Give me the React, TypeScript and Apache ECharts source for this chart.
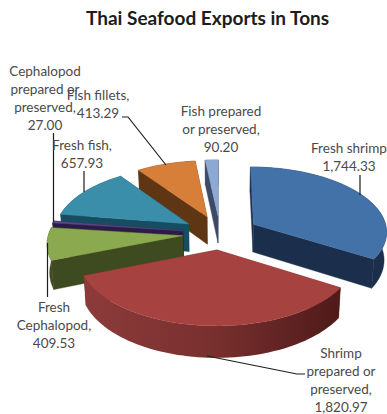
import React, { useEffect, useRef } from "react";
import * as echarts from "echarts";

const titleText = "Thai Seafood Exports in Tons";

// Slices in pie order, clockwise from twelve o'clock.
const sliceNames = [
  ["Fresh shrimp"],
  ["Shrimp", "prepared or", "preserved,"],
  ["Fresh", "Cephalopod,"],
  ["Cephalopod", "prepared or", "preserved,"],
  ["Fresh fish,"],
  ["Fish fillets,"],
  ["Fish prepared", "or preserved,"],
];
const sliceValues = [1744.33, 1820.97, 409.53, 27.0, 657.93, 413.29, 90.2];
const sliceExplosion = [0.29, 0.25, 0.28, 0.28, 0.28, 0.28, 0.28];

const topColors = ["#4372a9", "#a64240", "#8ba94e", "#5a4585", "#3b8ea9", "#d77f38", "#8da9d2"];
const wallColors = ["#1b2f4c", "#7a2d2c", "#3e4a1f", "#2c1b47", "#174d60", "#5f3614", "#3c4a68"];

// Back-to-front stacking rank of each slice.
const paintRank = [4, 6, 5, 3, 2, 1, 0];

// Label anchor (centre of the text block) for each slice.
const labelAnchors = [
  [349, 157],
  [341, 380],
  [54, 325],
  [45, 98],
  [82, 154],
  [98, 104],
  [221, 129],
];

// Leader lines from labels to slices.
const leaderLines = [
  [[360, 175], [360, 195]],
  [[207, 356], [297, 374], [305, 374]],
  [[47.5, 243], [47.5, 297]],
  [[53.5, 133], [53.5, 222]],
  [[84, 171], [84, 192]],
  [[122, 117], [128, 117], [166, 165]],
  [],
];

// Projection of the tilted pie: unit-disc coordinates to pixels.
const CX = 220;
const CY = 233.4;
const RX = 134;
const RY = 64.8;
const PERSPECTIVE = 0.1;
const DEPTH = 28;
const BASE_SHRINK = 0.985;

const project = (x: number, y: number, lowered = false) => {
  const w = 1 + PERSPECTIVE * y;
  let sx = (RX * x) / w;
  let sy = CY - (RY * y) / w;
  if (lowered) {
    sx *= BASE_SHRINK;
    sy += DEPTH / w;
  }
  return [CX + sx, sy];
};

const total = sliceValues.reduce((a, b) => a + b, 0);
const startAngles = sliceValues.map((_, i) =>
  (sliceValues.slice(0, i).reduce((a, b) => a + b, 0) / total) * Math.PI * 2
);

const formatValue = (v: number) =>
  v.toLocaleString("en-US", { minimumFractionDigits: 2, maximumFractionDigits: 2 });

const renderSlice = (params: any, api: any) => {
  const i = params.dataIndex;
  const value = api.value(0);
  const a0 = startAngles[i];
  const a1 = a0 + (value / total) * Math.PI * 2;
  const mid = (a0 + a1) / 2;
  const e = sliceExplosion[i];
  const ox = e * Math.sin(mid);
  const oy = e * Math.cos(mid);

  const steps = Math.max(2, Math.ceil((a1 - a0) / (Math.PI / 90)));
  const arcAngles = Array.from({ length: steps + 1 }, (_, k) => a0 + ((a1 - a0) * k) / steps);
  const arcTop = arcAngles.map((a) => project(ox + Math.sin(a), oy + Math.cos(a)));
  const arcBase = arcAngles.map((a) => project(ox + Math.sin(a), oy + Math.cos(a), true));
  const apexTop = project(ox, oy);
  const apexBase = project(ox, oy, true);

  const z = paintRank[i] * 10;
  const wallFill = wallColors[i];
  const rimFill =
    i === 1
      ? {
          type: "linear",
          x: 0,
          y: 0,
          x2: 1,
          y2: 0,
          colorStops: [
            { offset: 0, color: "#8c3b3a" },
            { offset: 0.5, color: "#78302e" },
            { offset: 1, color: "#4f1a1a" },
          ],
        }
      : wallFill;

  const poly = (points: number[][], fill: any, zOffset: number) => ({
    type: "polygon",
    z2: z + zOffset,
    silent: true,
    shape: { points },
    style: { fill, stroke: typeof fill === "string" ? fill : undefined, lineWidth: 0.4 },
  });

  const children: any[] = [
    poly([apexTop, arcTop[0], arcBase[0], apexBase], wallFill, 1),
    poly([apexTop, arcTop[steps], arcBase[steps], apexBase], wallFill, 1),
    poly([...arcTop, ...[...arcBase].reverse()], rimFill, 2),
    poly([apexTop, ...arcTop], topColors[i], 3),
  ];

  const [lx, ly] = labelAnchors[i];
  children.push({
    type: "text",
    z2: 200,
    silent: true,
    style: {
      x: lx,
      y: ly,
      text: [...sliceNames[i], formatValue(value)].join("\n"),
      align: "center",
      verticalAlign: "middle",
      fontFamily: "Lato",
      fontSize: 13.5,
      lineHeight: 18,
      fill: "#4a4a4a",
    },
  });

  const leader = leaderLines[i];
  if (leader.length) {
    children.push({
      type: "polyline",
      z2: 190,
      silent: true,
      shape: { points: leader },
      style: { fill: "none", stroke: "#1c1c1c", lineWidth: 1.2 },
    });
  }

  return { type: "group", children };
};

export default function App() {
  const ref = useRef<HTMLDivElement>(null);

  useEffect(() => {
    document.body.style.margin = "0";
    const chart = echarts.init(ref.current!, null, { renderer: "svg" });
    chart.setOption({
      animation: false,
      backgroundColor: "#ffffff",
      title: {
        text: titleText,
        left: 81,
        top: 3,
        textStyle: { fontFamily: "Lato", fontWeight: "bold", fontSize: 19, color: "#1c1c1c" },
      },
      series: [
        {
          type: "custom",
          coordinateSystem: "none",
          clip: false,
          silent: true,
          data: sliceValues.map((v) => [v]),
          renderItem: renderSlice,
        },
      ],
    });
    return () => chart.dispose();
  }, []);

  return <div ref={ref} style={{ width: 387, height: 414 }} />;
}
